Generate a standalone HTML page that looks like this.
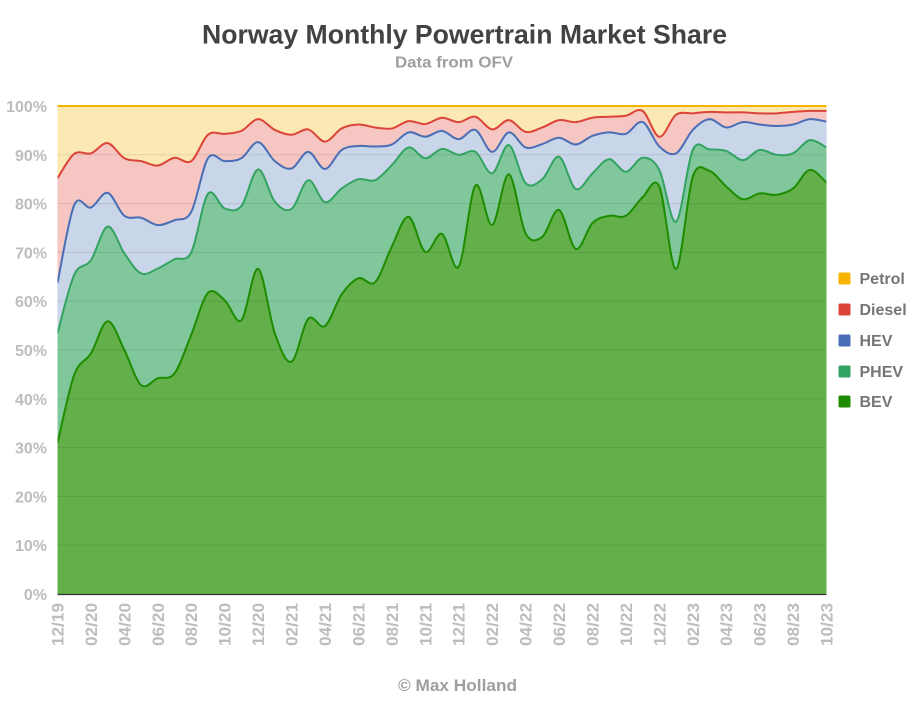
<!DOCTYPE html>
<html>
<head>
<meta charset="utf-8">
<style>
html,body{margin:0;padding:0;background:#fff;}
svg{display:block;font-family:"Liberation Sans",Arial,sans-serif;font-weight:bold;}
</style>
</head>
<body>
<svg id="c" width="916" height="712" viewBox="0 0 916 712" xmlns="http://www.w3.org/2000/svg">
<defs>
<clipPath id="pc"><rect x="57.5" y="105" width="769" height="489"/></clipPath>
</defs>
<rect width="916" height="712" fill="#fff"/>
<text x="464.5" y="43.5" text-anchor="middle" font-size="27" fill="#424242" textLength="525" lengthAdjust="spacingAndGlyphs">Norway Monthly Powertrain Market Share</text>
<text x="454" y="67.5" text-anchor="middle" font-size="16" fill="#9e9e9e" textLength="118" lengthAdjust="spacingAndGlyphs">Data from OFV</text>

<rect x="57.5" y="106" width="769" height="488" fill="#fce8b2"/>
<g id="areas" clip-path="url(#pc)"></g>
<g id="grid" stroke="#000" stroke-opacity="0.09" stroke-width="1">
<line x1="57.5" x2="826.5" y1="545.2" y2="545.2"/>
<line x1="57.5" x2="826.5" y1="496.4" y2="496.4"/>
<line x1="57.5" x2="826.5" y1="447.6" y2="447.6"/>
<line x1="57.5" x2="826.5" y1="398.8" y2="398.8"/>
<line x1="57.5" x2="826.5" y1="350" y2="350"/>
<line x1="57.5" x2="826.5" y1="301.2" y2="301.2"/>
<line x1="57.5" x2="826.5" y1="252.4" y2="252.4"/>
<line x1="57.5" x2="826.5" y1="203.6" y2="203.6"/>
<line x1="57.5" x2="826.5" y1="154.8" y2="154.8"/>
</g>
<g id="lines" clip-path="url(#pc)" fill="none" stroke-width="2" stroke-linejoin="round"></g>
<line x1="57.5" x2="826.5" y1="106" y2="106" stroke="#f4b400" stroke-width="2"/>
<line x1="57.5" x2="826.5" y1="594.5" y2="594.5" stroke="#333" stroke-width="1.2"/>

<g font-size="16" fill="#bdbdbd" text-anchor="end">
<text x="47" y="600">0%</text>
<text x="47" y="551.2">10%</text>
<text x="47" y="502.4">20%</text>
<text x="47" y="453.6">30%</text>
<text x="47" y="404.8">40%</text>
<text x="47" y="356">50%</text>
<text x="47" y="307.2">60%</text>
<text x="47" y="258.4">70%</text>
<text x="47" y="209.6">80%</text>
<text x="47" y="160.8">90%</text>
<text x="47" y="112">100%</text>
</g>

<g font-size="16.5" fill="#bdbdbd" text-anchor="end">
<text transform="translate(63.5,603) rotate(-90)" textLength="43" lengthAdjust="spacingAndGlyphs">12/19</text>
<text transform="translate(96.9,603) rotate(-90)" textLength="43" lengthAdjust="spacingAndGlyphs">02/20</text>
<text transform="translate(130.4,603) rotate(-90)" textLength="43" lengthAdjust="spacingAndGlyphs">04/20</text>
<text transform="translate(163.8,603) rotate(-90)" textLength="43" lengthAdjust="spacingAndGlyphs">06/20</text>
<text transform="translate(197.2,603) rotate(-90)" textLength="43" lengthAdjust="spacingAndGlyphs">08/20</text>
<text transform="translate(230.7,603) rotate(-90)" textLength="43" lengthAdjust="spacingAndGlyphs">10/20</text>
<text transform="translate(264.1,603) rotate(-90)" textLength="43" lengthAdjust="spacingAndGlyphs">12/20</text>
<text transform="translate(297.5,603) rotate(-90)" textLength="43" lengthAdjust="spacingAndGlyphs">02/21</text>
<text transform="translate(331.0,603) rotate(-90)" textLength="43" lengthAdjust="spacingAndGlyphs">04/21</text>
<text transform="translate(364.4,603) rotate(-90)" textLength="43" lengthAdjust="spacingAndGlyphs">06/21</text>
<text transform="translate(397.9,603) rotate(-90)" textLength="43" lengthAdjust="spacingAndGlyphs">08/21</text>
<text transform="translate(431.3,603) rotate(-90)" textLength="43" lengthAdjust="spacingAndGlyphs">10/21</text>
<text transform="translate(464.7,603) rotate(-90)" textLength="43" lengthAdjust="spacingAndGlyphs">12/21</text>
<text transform="translate(498.2,603) rotate(-90)" textLength="43" lengthAdjust="spacingAndGlyphs">02/22</text>
<text transform="translate(531.6,603) rotate(-90)" textLength="43" lengthAdjust="spacingAndGlyphs">04/22</text>
<text transform="translate(565.0,603) rotate(-90)" textLength="43" lengthAdjust="spacingAndGlyphs">06/22</text>
<text transform="translate(598.5,603) rotate(-90)" textLength="43" lengthAdjust="spacingAndGlyphs">08/22</text>
<text transform="translate(631.9,603) rotate(-90)" textLength="43" lengthAdjust="spacingAndGlyphs">10/22</text>
<text transform="translate(665.3,603) rotate(-90)" textLength="43" lengthAdjust="spacingAndGlyphs">12/22</text>
<text transform="translate(698.8,603) rotate(-90)" textLength="43" lengthAdjust="spacingAndGlyphs">02/23</text>
<text transform="translate(732.2,603) rotate(-90)" textLength="43" lengthAdjust="spacingAndGlyphs">04/23</text>
<text transform="translate(765.6,603) rotate(-90)" textLength="43" lengthAdjust="spacingAndGlyphs">06/23</text>
<text transform="translate(799.1,603) rotate(-90)" textLength="43" lengthAdjust="spacingAndGlyphs">08/23</text>
<text transform="translate(832.5,603) rotate(-90)" textLength="43" lengthAdjust="spacingAndGlyphs">10/23</text>
</g>

<g font-size="16" fill="#757575">
<rect x="838.5" y="272.5" width="12" height="12" rx="1.5" fill="#f4b400"/>
<text x="859.5" y="284">Petrol</text>
<rect x="838.5" y="303.5" width="12" height="12" rx="1.5" fill="#db4437"/>
<text x="859.5" y="315">Diesel</text>
<rect x="838.5" y="334.5" width="12" height="12" rx="1.5" fill="#4a6eb5"/>
<text x="859.5" y="346">HEV</text>
<rect x="838.5" y="365.5" width="12" height="12" rx="1.5" fill="#33a362"/>
<text x="859.5" y="377">PHEV</text>
<rect x="838.5" y="395.5" width="12" height="12" rx="1.5" fill="#1e8c00"/>
<text x="859.5" y="407">BEV</text>
</g>

<text x="457.5" y="691" text-anchor="middle" font-size="17" fill="#9e9e9e" textLength="119" lengthAdjust="spacingAndGlyphs">© Max Holland</text>
</svg>
<script>
(function(){
var BEV=[30.9,44.9,49.3,55.9,50.0,42.8,44.2,45.2,53.1,61.7,60.2,56.1,66.6,53.4,47.6,56.4,54.9,61.4,64.7,63.9,71.2,77.3,70.1,73.8,67.1,83.7,75.6,86.0,73.9,73.2,78.7,70.7,76.0,77.5,77.5,81.3,83.5,66.6,85.5,86.7,83.5,80.9,82.1,81.8,83.1,86.9,84.3];
var PHEV=[53.4,65.4,68.4,75.3,69.8,65.7,66.7,68.6,70.0,82.0,79.0,79.5,87.0,80.4,78.9,84.8,80.3,83.1,85.0,84.8,87.9,91.5,89.3,91.2,90.0,90.6,86.2,92.0,84.2,85.0,89.6,83.0,86.2,89.1,86.5,89.4,86.9,76.3,91.0,91.1,90.8,88.9,91.0,90.0,90.3,93.0,91.5];
var HEV=[63.7,79.7,79.2,82.2,77.5,77.1,75.6,76.6,78.3,89.3,88.7,89.3,92.6,88.7,87.2,90.6,87.1,91.0,91.8,91.7,92.1,94.6,93.7,94.9,93.2,95.1,90.6,94.6,91.5,92.2,93.5,92.1,93.9,94.6,94.3,96.7,91.7,90.3,95.1,97.3,95.6,96.7,96.2,95.9,96.2,97.3,96.8];
var DIE=[85.2,90.2,90.3,92.4,89.3,88.7,87.8,89.4,88.7,94.1,94.3,94.9,97.3,95.1,94.1,95.2,92.7,95.4,96.2,95.6,95.4,96.9,96.3,97.6,96.7,97.8,95.2,97.1,94.7,95.6,97.1,96.7,97.6,97.8,98.0,99.0,93.7,98.2,98.5,98.8,98.7,98.7,98.5,98.5,98.8,99.0,99.0];
var X0=57.5,DX=769/46,Y0=594,SY=4.88;
function pts(a){return a.map(function(v,i){return [X0+i*DX,Y0-v*SY];});}
function f(n){return n.toFixed(2);}
function spline(p){
  var d="M"+f(p[0][0])+","+f(p[0][1]);
  for(var i=0;i<p.length-1;i++){
    var p0=p[i-1]||p[i],p1=p[i],p2=p[i+1],p3=p[i+2]||p2;
    var c1x=p1[0]+(p2[0]-p0[0])/6,c1y=p1[1]+(p2[1]-p0[1])/6;
    var c2x=p2[0]-(p3[0]-p1[0])/6,c2y=p2[1]-(p3[1]-p1[1])/6;
    d+="C"+f(c1x)+","+f(c1y)+" "+f(c2x)+","+f(c2y)+" "+f(p2[0])+","+f(p2[1]);
  }
  return d;
}
var NS="http://www.w3.org/2000/svg";
var areas=document.getElementById("areas"),lines=document.getElementById("lines");
var series=[[DIE,"#f5c6c2","#db4437"],[HEV,"#c9d5e9","#4a6eb5"],[PHEV,"#80c79b","#33a362"],[BEV,"#63af4a","#1e8c00"]];
var ls=[];
series.forEach(function(s){
  var d=spline(pts(s[0]));
  var a=document.createElementNS(NS,"path");
  a.setAttribute("d",d+"L826.5,594L57.5,594Z");
  a.setAttribute("fill",s[1]);
  areas.appendChild(a);
  ls.push([d,s[2]]);
});
ls.forEach(function(l){
  var p=document.createElementNS(NS,"path");
  p.setAttribute("d",l[0]);
  p.setAttribute("stroke",l[1]);
  lines.appendChild(p);
});
})();
</script>
</body>
</html>
